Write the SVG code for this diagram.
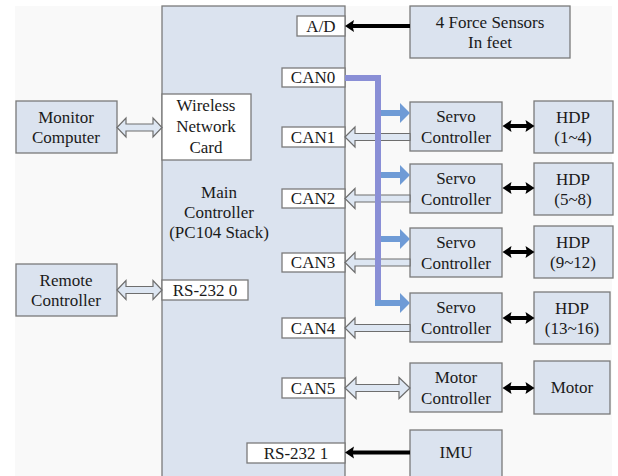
<svg xmlns="http://www.w3.org/2000/svg" width="618" height="476" viewBox="0 0 618 476" font-family="'Liberation Serif', 'DejaVu Serif', 'Noto Serif', 'Times New Roman', serif">
<defs>
<style>
.box{fill:#dbe3ef;stroke:#7a7a7a;stroke-width:1.3}
.port{fill:#ffffff;stroke:#7a7a7a;stroke-width:1.3}
text{font-family:'Liberation Serif','DejaVu Serif','Times New Roman',serif;font-size:17px;fill:#1a1a1a;text-anchor:middle}
.hollow{fill:#dde6f2;stroke:#6e6e6e;stroke-width:1.2;stroke-linejoin:miter}
.blk{fill:#000}
.bus{stroke:#8a8fd6;stroke-width:6;fill:none}
.branch{stroke:#6f9bd6;stroke-width:6;fill:none}
.bh{fill:#6f9bd6}
</style>
<path id="dbl" d="M0,0 L9,-6 L8,-2 L24,-2 L23,-6 L32,0 L23,6 L24,2 L8,2 L9,6 Z"/>
</defs>
<rect x="0" y="0" width="618" height="476" fill="#ffffff"/>
<rect x="15" y="6" width="597" height="470" fill="#f9f9f9"/>

<g id="main"><rect class="box" x="162" y="6" width="183" height="475"/>
<text x="219" y="198">Main</text><text x="219" y="218">Controller</text><text x="219" y="238">(PC104 Stack)</text></g>

<g id="wireless"><rect class="port" x="162" y="94" width="89" height="66"/>
<text x="206" y="111">Wireless</text><text x="206" y="132">Network</text><text x="206" y="153">Card</text></g>
<g id="ad"><rect class="port" x="297" y="16" width="48" height="20"/><text x="321" y="32">A/D</text></g>
<g id="can0"><rect class="port" x="282" y="68" width="63" height="19"/><text x="313" y="83">CAN0</text></g>
<g id="can1"><rect class="port" x="282" y="127" width="63" height="20"/><text x="313" y="143">CAN1</text></g>
<g id="can2"><rect class="port" x="282" y="189" width="63" height="19"/><text x="313" y="204">CAN2</text></g>
<g id="can3"><rect class="port" x="282" y="253" width="63" height="19"/><text x="313" y="268">CAN3</text></g>
<g id="can4"><rect class="port" x="282" y="318" width="63" height="20"/><text x="313" y="334">CAN4</text></g>
<g id="can5"><rect class="port" x="282" y="378" width="63" height="20"/><text x="313" y="394">CAN5</text></g>
<g id="rs2321"><rect class="port" x="247" y="443" width="98" height="20"/><text x="296" y="459">RS-232 1</text></g>
<g id="rs2320"><rect class="port" x="162" y="280" width="86" height="20"/><text x="205" y="296">RS-232 0</text></g>

<g id="monitor"><rect class="box" x="16" y="101" width="101" height="52"/><text x="66" y="123">Monitor</text><text x="66" y="143">Computer</text></g>
<g id="remote"><rect class="box" x="16" y="264" width="101" height="52"/><text x="66" y="286">Remote</text><text x="66" y="306">Controller</text></g>
<g id="force"><rect class="box" x="410" y="6" width="160" height="52"/><text x="490" y="28">4 Force Sensors</text><text x="490" y="48">In feet</text></g>

<g id="servo1"><rect class="box" x="410" y="102" width="92" height="49"/><text x="456" y="122">Servo</text><text x="456" y="143">Controller</text></g>
<g id="servo2"><rect class="box" x="410" y="164" width="92" height="49"/><text x="456" y="184">Servo</text><text x="456" y="205">Controller</text></g>
<g id="servo3"><rect class="box" x="410" y="228" width="92" height="49"/><text x="456" y="248">Servo</text><text x="456" y="269">Controller</text></g>
<g id="servo4"><rect class="box" x="410" y="293" width="92" height="49"/><text x="456" y="313">Servo</text><text x="456" y="334">Controller</text></g>
<g id="motorctl"><rect class="box" x="410" y="363" width="92" height="49"/><text x="456" y="383">Motor</text><text x="456" y="404">Controller</text></g>
<g id="imu"><rect class="box" x="410" y="430" width="92" height="50"/><text x="456" y="458">IMU</text></g>

<g id="hdp1"><rect class="box" x="534" y="101" width="79" height="52"/><text x="573" y="123">HDP</text><text x="573" y="143">(1~4)</text></g>
<g id="hdp2"><rect class="box" x="534" y="163" width="79" height="52"/><text x="573" y="185">HDP</text><text x="573" y="205">(5~8)</text></g>
<g id="hdp3"><rect class="box" x="534" y="226" width="79" height="52"/><text x="573" y="248">HDP</text><text x="573" y="268">(9~12)</text></g>
<g id="hdp4"><rect class="box" x="534" y="292" width="76" height="52"/><text x="572" y="314">HDP</text><text x="572" y="334">(13~16)</text></g>
<g id="motor"><rect class="box" x="534" y="361" width="76" height="53"/><text x="572" y="393">Motor</text></g>

<g id="connectors">
<path class="hollow" d="M117,127.5 L126,118 L126,124 L153,124 L153,118 L162,127.5 L153,137 L153,131 L126,131 L126,137 Z"/>
<path class="hollow" d="M117,290 L126,280.5 L126,286.5 L153,286.5 L153,280.5 L162,290 L153,299.5 L153,293.5 L126,293.5 L126,299.5 Z"/>
<path class="hollow" d="M345,388 L356,377.5 L356,384.5 L399,384.5 L399,377.5 L410,388 L399,398.5 L399,391.5 L356,391.5 L356,398.5 Z"/>
<path class="hollow" d="M345,137 L355,127 L355,133.5 L410,133.5 L410,140.5 L355,140.5 L355,147 Z"/>
<path class="hollow" d="M345,198.5 L355,188.5 L355,195 L410,195 L410,202 L355,202 L355,208.5 Z"/>
<path class="hollow" d="M345,262.5 L355,252.5 L355,259 L410,259 L410,266 L355,266 L355,272.5 Z"/>
<path class="hollow" d="M345,328 L355,318 L355,324.5 L410,324.5 L410,331.5 L355,331.5 L355,338 Z"/>
<path class="bus" d="M345,78 L378,78 L378,306"/>
<path class="branch" d="M381,113 L401,113"/><path class="bh" d="M400,103 L410,113 L400,123 Z"/>
<path class="branch" d="M381,175 L401,175"/><path class="bh" d="M400,165 L410,175 L400,185 Z"/>
<path class="branch" d="M381,239 L401,239"/><path class="bh" d="M400,229 L410,239 L400,249 Z"/>
<path class="branch" d="M375,303 L401,303"/><path class="bh" d="M400,293 L410,303 L400,313 Z"/>
<path class="blk" d="M345,26 L354,20 L353,24 L410,24 L410,28 L353,28 L354,32 Z"/>
<path class="blk" d="M345,452.5 L354,446.5 L353,450.5 L410,450.5 L410,454.5 L353,454.5 L354,458.5 Z"/>
<use class="blk" href="#dbl" x="502.5" y="126"/>
<use class="blk" href="#dbl" x="502.5" y="188"/>
<use class="blk" href="#dbl" x="502.5" y="252"/>
<use class="blk" href="#dbl" x="502.5" y="318"/>
<use class="blk" href="#dbl" x="502.5" y="388"/>
</g>
</svg>
